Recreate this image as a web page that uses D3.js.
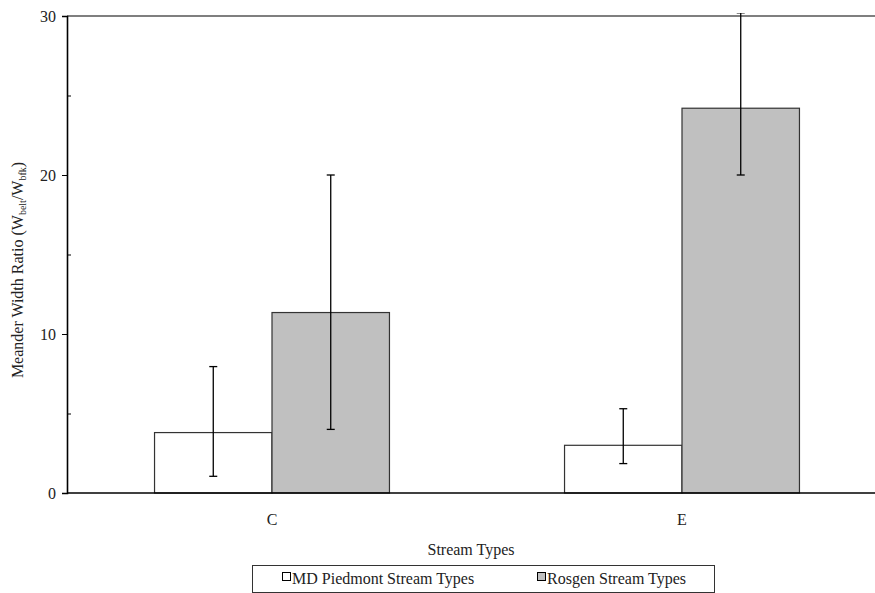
<!DOCTYPE html>
<html><head><meta charset="utf-8">
<script src="https://cdn.jsdelivr.net/npm/d3@7"></script>
<style>body{margin:0;background:#fff;}svg, svg text{font-family:"Times New Roman","Liberation Serif",Times,"DejaVu Serif",serif !important;}</style>
</head><body>
<svg id="c" width="875" height="593"></svg>
<script>
const categories = ["C", "E"];
const seriesNames = ["MD Piedmont Stream Types", "Rosgen Stream Types"];
const mdValues = [3.8, 3.0];
const mdLow = [1.05, 1.85];
const mdHigh = [7.95, 5.3];
const rosgenValues = [11.35, 24.2];
const rosgenLow = [4.0, 20.0];
const rosgenHigh = [20.0, 30.2];
const yTicks = [0, 10, 20, 30];
const yMinorTicks = [5, 15, 25];
const colors = ["#ffffff", "#c0c0c0"];

const FONT = '"Times New Roman","Liberation Serif",Times,serif';
const FS = 16;
const svg = d3.select("#c");
const L = 67, R = 875, T = 16, B = 493;
const y = d3.scaleLinear().domain([0, 30]).range([B, T]);
const x0 = d3.scaleBand().domain(categories).range([L, 887]).padding(0);
const groupW = x0.bandwidth() * 0.573;
const x1 = d3.scaleBand().domain(seriesNames).range([-groupW / 2, groupW / 2]).padding(0);

const rows = categories.map((c, i) => ({
  cat: c,
  items: [
    {s: seriesNames[0], v: mdValues[i], lo: mdLow[i], hi: mdHigh[i], col: colors[0]},
    {s: seriesNames[1], v: rosgenValues[i], lo: rosgenLow[i], hi: rosgenHigh[i], col: colors[1]}
  ]
}));

svg.append("defs").append("clipPath").attr("id", "clip")
  .append("rect").attr("x", 0).attr("y", 13).attr("width", 875).attr("height", 600);

// bars
const g = svg.append("g");
rows.forEach(r => {
  const cx = x0(r.cat) + x0.bandwidth() / 2;
  r.items.forEach(d => {
    g.append("rect")
      .attr("x", cx + x1(d.s)).attr("y", y(d.v))
      .attr("width", x1.bandwidth()).attr("height", y(0) - y(d.v))
      .attr("fill", d.col).attr("stroke", "#333").attr("stroke-width", 1.2);
  });
});
// error bars
const eg = svg.append("g").attr("clip-path", "url(#clip)");
rows.forEach(r => {
  const cx = x0(r.cat) + x0.bandwidth() / 2;
  r.items.forEach(d => {
    const ex = cx + x1(d.s) + x1.bandwidth() / 2;
    eg.append("line").attr("x1", ex).attr("x2", ex).attr("y1", y(d.lo)).attr("y2", y(d.hi))
      .attr("stroke", "#000").attr("stroke-width", 1.3);
    [d.lo, d.hi].forEach(v => {
      eg.append("line").attr("x1", ex - 4).attr("x2", ex + 4).attr("y1", y(v)).attr("y2", y(v))
        .attr("stroke", "#000").attr("stroke-width", 1.3);
    });
  });
});

// frame lines
svg.append("line").attr("x1", L).attr("x2", R).attr("y1", y(30)).attr("y2", y(30)).attr("stroke", "#000").attr("stroke-width", 1.2);
svg.append("line").attr("x1", L).attr("x2", R).attr("y1", y(0)).attr("y2", y(0)).attr("stroke", "#000").attr("stroke-width", 1.6);

// y axis
const yAxis = svg.append("g").attr("transform", `translate(${L},0)`)
  .call(d3.axisLeft(y).tickValues(yTicks).tickSize(5).tickPadding(6).tickFormat(d3.format("d")));
yAxis.attr("font-family", FONT);
yAxis.select(".domain").attr("stroke", "#000").attr("stroke-width", 1.6);
yAxis.selectAll("text").attr("font-size", FS).attr("fill", "#222");
const yMinor = svg.append("g").attr("transform", `translate(${L},0)`)
  .call(d3.axisRight(y).tickValues(yMinorTicks).tickSize(4).tickFormat(""));
yMinor.select(".domain").remove();

// x category labels
const xAxis = svg.append("g").attr("transform", `translate(0,${B})`)
  .call(d3.axisBottom(x0).tickSize(0).tickPadding(21));
xAxis.attr("font-family", FONT);
xAxis.select(".domain").remove();
xAxis.selectAll("text").attr("font-size", FS).attr("fill", "#222");

// axis titles
svg.append("text").attr("x", (L + R) / 2).attr("y", 555).attr("text-anchor", "middle")
  .attr("font-family", FONT).attr("font-size", FS).attr("fill", "#222").text("Stream Types");
const yl = svg.append("text").attr("transform", `translate(23,270) rotate(-90)`)
  .attr("font-family", FONT).attr("text-anchor", "middle").attr("font-size", FS).attr("fill", "#222");
yl.append("tspan").text("Meander Width Ratio (W");
yl.append("tspan").attr("font-size", 10).attr("dy", 3).text("belt");
yl.append("tspan").attr("dy", -3).text("/W");
yl.append("tspan").attr("font-size", 10).attr("dy", 3).text("bfk");
yl.append("tspan").attr("dy", -3).text(")");

// legend
const lg = svg.append("g").attr("font-family", FONT);
lg.append("rect").attr("x", 252.5).attr("y", 565.5).attr("width", 462).attr("height", 27)
  .attr("fill", "#fff").attr("stroke", "#333").attr("stroke-width", 1);
const legX = [282, 537];
seriesNames.forEach((s, i) => {
  lg.append("rect").attr("x", legX[i] + 0.5).attr("y", 572.5).attr("width", 8).attr("height", 8)
    .attr("fill", colors[i]).attr("stroke", "#000").attr("stroke-width", 1);
  lg.append("text").attr("x", legX[i] + 10).attr("y", 584).attr("font-size", FS).attr("fill", "#222").text(s);
});
</script>
</body></html>
